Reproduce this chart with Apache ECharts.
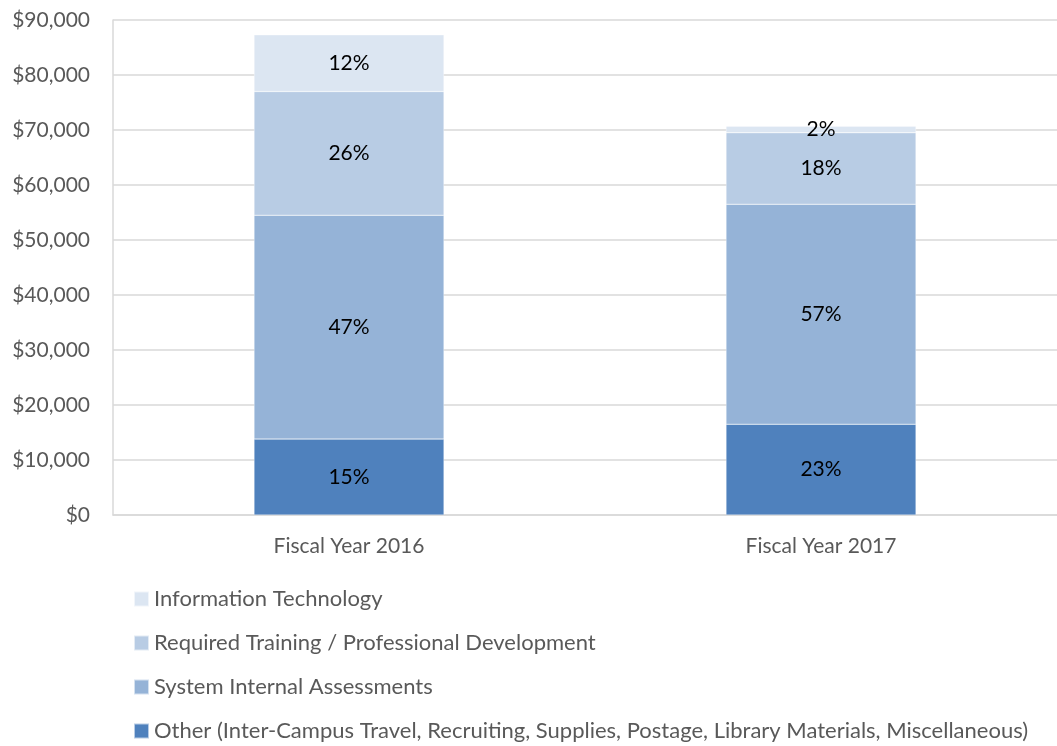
<!DOCTYPE html>
<html><head><meta charset="utf-8">
<script src="https://cdn.jsdelivr.net/npm/echarts@6/dist/echarts.min.js"></script>
<style>html,body{margin:0;padding:0;background:#fff}#c{width:1057px;height:746px}</style>
</head><body><div id="c"></div>
<script>
var categories = ['Fiscal Year 2016', 'Fiscal Year 2017'];
var seriesNames = ['Other (Inter-Campus Travel, Recruiting, Supplies, Postage, Library Materials, Miscellaneous)',
  'System Internal Assessments', 'Required Training / Professional Development', 'Information Technology'];
var otherVals = [13800, 16500];
var systemVals = [40700, 40000];
var trainingVals = [22500, 13000];
var itVals = [10300, 1200];
var otherPct = ['15%', '23%'];
var systemPct = ['47%', '57%'];
var trainingPct = ['26%', '18%'];
var itPct = ['12%', '2%'];
var colors = ['#4F81BD', '#95B3D7', '#B8CCE4', '#DCE6F2'];
var legendOrder = [seriesNames[3], seriesNames[2], seriesNames[1], seriesNames[0]];

var FONT = 'Lato, "Open Sans", sans-serif';
function mk(i, vals, pcts) {
  return {
    name: seriesNames[i], type: 'bar', stack: 'total', data: vals, barWidth: 190,
    itemStyle: { color: colors[i], borderColor: 'rgba(255,255,255,0.6)', borderWidth: 0.5 },
    label: { show: true, position: 'inside', color: '#000', fontSize: 21, fontFamily: FONT,
      formatter: function (p) { return pcts[p.dataIndex]; } }
  };
}
var chart = echarts.init(document.getElementById('c'), null, { renderer: 'canvas' });
chart.setOption({
  animation: false,
  grid: { left: 113, width: 952, top: 20, height: 495, containLabel: false },
  xAxis: { type: 'category', data: categories,
    axisLine: { lineStyle: { color: '#D9D9D9', width: 1.5 } }, axisTick: { show: false },
    axisLabel: { color: '#595959', fontSize: 21, fontFamily: FONT, margin: 21 } },
  yAxis: { type: 'value', min: 0, max: 90000, interval: 10000,
    axisLine: { show: true, lineStyle: { color: '#D9D9D9', width: 1.5 } }, axisTick: { show: false },
    splitLine: { lineStyle: { color: '#D9D9D9', width: 1.5 } },
    axisLabel: { color: '#595959', fontSize: 21, fontFamily: FONT, margin: 23,
      formatter: function (v) { return '$' + v.toLocaleString('en-US'); } } },
  legend: { orient: 'vertical', left: 133, top: 588, height: 160, itemWidth: 15, itemHeight: 15, itemGap: 22,
    icon: 'rect', data: legendOrder, padding: 0,
    textStyle: { color: '#595959', fontSize: 22, fontFamily: FONT } },
  series: [mk(0, otherVals, otherPct), mk(1, systemVals, systemPct), mk(2, trainingVals, trainingPct), mk(3, itVals, itPct)]
});
</script></body></html>
